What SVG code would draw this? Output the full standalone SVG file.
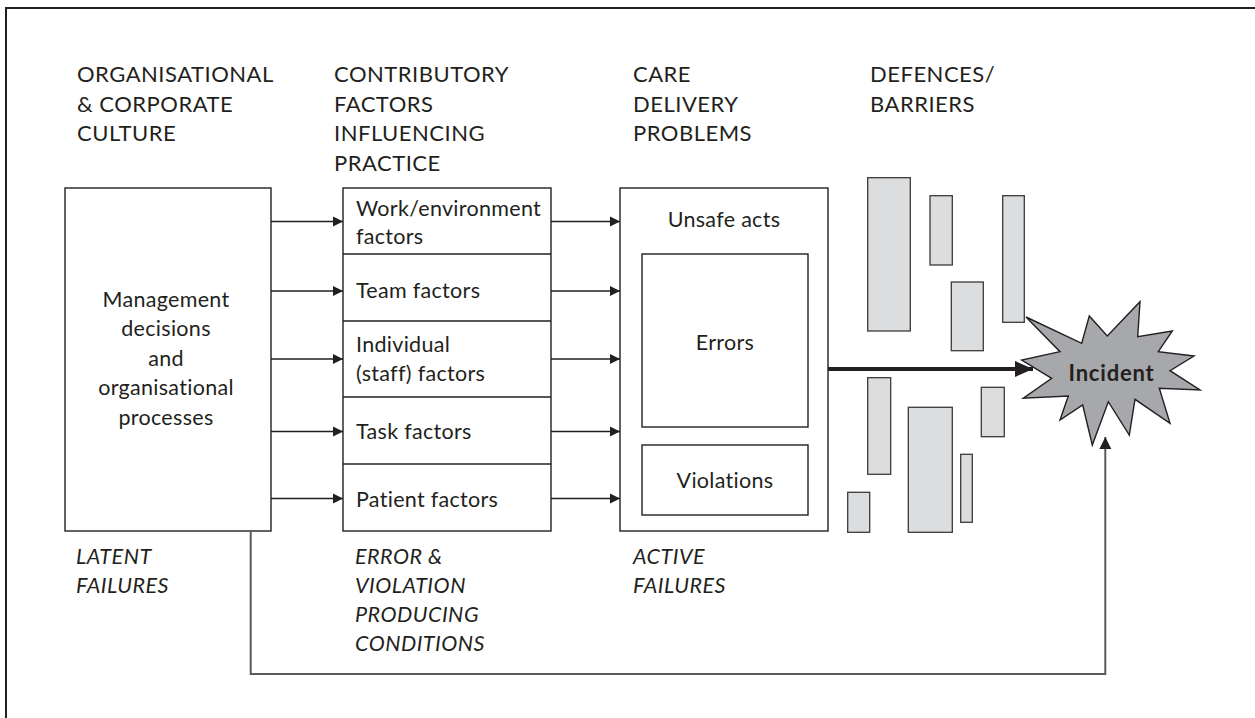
<svg xmlns="http://www.w3.org/2000/svg" width="1255" height="718" viewBox="0 0 1255 718">
  <style>
    .box { fill: #ffffff; stroke: #231f20; stroke-width: 1.4; }
    .bar { fill: #dcdddf; stroke: #3a3a3a; stroke-width: 1.3; }
    .hdr { font-family: Lato, "Liberation Sans", sans-serif; font-size: 22px; letter-spacing: 0.5px; fill: #231f20; }
    .lbl { font-family: Lato, "Liberation Sans", sans-serif; font-size: 21.5px; letter-spacing: 0.3px; fill: #231f20; }
    .ital { font-family: Lato, "Liberation Sans", sans-serif; font-size: 21.5px; letter-spacing: 0.5px; font-style: italic; fill: #231f20; }
    .mid { text-anchor: middle; }
    .link { fill: none; stroke: #231f20; stroke-width: 1.4; }
  </style>
  <defs>
    <marker id="arrow" markerUnits="userSpaceOnUse" markerWidth="12" markerHeight="12" refX="11" refY="6" orient="auto">
      <path d="M1,1 L11,6 L1,11 Z" fill="#231f20"/>
    </marker>
    <marker id="arrowBig" markerUnits="userSpaceOnUse" markerWidth="20" markerHeight="18" refX="19" refY="9" orient="auto">
      <path d="M1,1 L19,9 L1,17 Z" fill="#231f20"/>
    </marker>
    <marker id="arrowGrey" markerUnits="userSpaceOnUse" markerWidth="14" markerHeight="14" refX="13" refY="7" orient="auto">
      <path d="M1,1 L13,7 L1,13 Z" fill="#231f20"/>
    </marker>
  </defs>

  <rect width="1255" height="718" fill="#ffffff"/>
  <!-- page frame -->
  <rect x="6" y="8" width="1262" height="720" fill="none" stroke="#231f20" stroke-width="2"/>

  <!-- column headings -->
  <g id="headings">
    <text class="hdr" x="77" y="82">ORGANISATIONAL</text>
    <text class="hdr" x="77" y="111.5">&amp; CORPORATE</text>
    <text class="hdr" x="77" y="141">CULTURE</text>
    <text class="hdr" x="334" y="82">CONTRIBUTORY</text>
    <text class="hdr" x="334" y="111.5">FACTORS</text>
    <text class="hdr" x="334" y="141">INFLUENCING</text>
    <text class="hdr" x="334" y="170.5">PRACTICE</text>
    <text class="hdr" x="633" y="82">CARE</text>
    <text class="hdr" x="633" y="111.5">DELIVERY</text>
    <text class="hdr" x="633" y="141">PROBLEMS</text>
    <text class="hdr" x="870" y="82">DEFENCES/</text>
    <text class="hdr" x="870" y="111.5">BARRIERS</text>
  </g>

  <!-- organisational box -->
  <g id="management">
    <rect class="box" x="65" y="188" width="206" height="343"/>
    <text class="lbl mid" x="166" y="306.5">Management</text>
    <text class="lbl mid" x="166" y="336">decisions</text>
    <text class="lbl mid" x="166" y="365.5">and</text>
    <text class="lbl mid" x="166" y="395">organisational</text>
    <text class="lbl mid" x="166" y="424.5">processes</text>
  </g>

  <!-- contributory factor stack -->
  <g id="factors">
    <rect class="box" x="343" y="188" width="208" height="343"/>
    <line class="link" x1="343" y1="254" x2="551" y2="254"/>
    <line class="link" x1="343" y1="321" x2="551" y2="321"/>
    <line class="link" x1="343" y1="397" x2="551" y2="397"/>
    <line class="link" x1="343" y1="464" x2="551" y2="464"/>
    <text class="lbl" x="356" y="215.5">Work/environment</text>
    <text class="lbl" x="356" y="243.5">factors</text>
    <text class="lbl" x="356" y="298">Team factors</text>
    <text class="lbl" x="356" y="351.5">Individual</text>
    <text class="lbl" x="356" y="381">(staff) factors</text>
    <text class="lbl" x="356" y="439">Task factors</text>
    <text class="lbl" x="356" y="507">Patient factors</text>
  </g>

  <!-- care delivery problems -->
  <g id="unsafe-acts">
    <rect class="box" x="620" y="188" width="208" height="343"/>
    <text class="lbl mid" x="724" y="226.5">Unsafe acts</text>
    <rect class="box" x="642" y="254" width="166" height="173"/>
    <text class="lbl mid" x="725" y="350">Errors</text>
    <rect class="box" x="642" y="445" width="166" height="70"/>
    <text class="lbl mid" x="725" y="487.5">Violations</text>
  </g>

  <!-- defences / barriers -->
  <g id="defences">
    <rect class="bar" x="867.7" y="177.7" width="42.6" height="153.3"/>
    <rect class="bar" x="930" y="195.7" width="22.3" height="69.3"/>
    <rect class="bar" x="1002.7" y="195.7" width="21.6" height="126.6"/>
    <rect class="bar" x="951.3" y="282" width="32" height="68.7"/>
    <rect class="bar" x="867.7" y="377.7" width="23" height="96.6"/>
    <rect class="bar" x="908.3" y="407.3" width="44" height="125"/>
    <rect class="bar" x="981.3" y="387.3" width="23" height="49.4"/>
    <rect class="bar" x="960.7" y="454.3" width="11.6" height="68"/>
    <rect class="bar" x="847.7" y="492.3" width="22" height="40"/>
  </g>

  <!-- incident burst -->
  <g id="incident">
    <polygon fill="#a7a8ab" stroke="#231f20" stroke-width="1.4" stroke-linejoin="miter"
      points="1026,317 1081.7,343.3 1089.3,316 1107.3,336 1140,301.7 1137.7,336.7 1172.3,331 1158.3,351.7 1194,356 1170,370.7 1200,390 1159.3,388.3 1170,423.3 1135,399.3 1129.3,435 1108.3,401.7 1092.3,445 1082.7,405 1060,420 1068.3,396 1023.3,398.3 1051.7,378.3 1021.7,360 1060,351.7"/>
    <text x="1111.5" y="381" text-anchor="middle" font-family="Lato, 'Liberation Sans', sans-serif" font-size="22" font-weight="bold" letter-spacing="0.8" fill="#231f20">Incident</text>
  </g>

  <!-- failure type labels -->
  <g id="failure-labels">
    <text class="ital" x="76" y="564">LATENT</text>
    <text class="ital" x="76" y="593">FAILURES</text>
    <text class="ital" x="355" y="564">ERROR &amp;</text>
    <text class="ital" x="355" y="593">VIOLATION</text>
    <text class="ital" x="355" y="622">PRODUCING</text>
    <text class="ital" x="355" y="651">CONDITIONS</text>
    <text class="ital" x="633" y="564">ACTIVE</text>
    <text class="ital" x="633" y="593">FAILURES</text>
  </g>

  <!-- connectors -->
  <g id="connectors">
    <line class="link" x1="271" y1="221.5" x2="343" y2="221.5" marker-end="url(#arrow)"/>
    <line class="link" x1="271" y1="291" x2="343" y2="291" marker-end="url(#arrow)"/>
    <line class="link" x1="271" y1="359" x2="343" y2="359" marker-end="url(#arrow)"/>
    <line class="link" x1="271" y1="431.5" x2="343" y2="431.5" marker-end="url(#arrow)"/>
    <line class="link" x1="271" y1="498.5" x2="343" y2="498.5" marker-end="url(#arrow)"/>

    <line class="link" x1="551" y1="221.5" x2="620" y2="221.5" marker-end="url(#arrow)"/>
    <line class="link" x1="551" y1="291" x2="620" y2="291" marker-end="url(#arrow)"/>
    <line class="link" x1="551" y1="359" x2="620" y2="359" marker-end="url(#arrow)"/>
    <line class="link" x1="551" y1="431.5" x2="620" y2="431.5" marker-end="url(#arrow)"/>
    <line class="link" x1="551" y1="498.5" x2="620" y2="498.5" marker-end="url(#arrow)"/>

    <line x1="828" y1="369" x2="1033" y2="369" stroke="#231f20" stroke-width="4" marker-end="url(#arrowBig)"/>

    <path d="M250.7,531 V674 H1105.3 V437" fill="none" stroke="#5a5a5a" stroke-width="2" marker-end="url(#arrowGrey)"/>
  </g>
</svg>
